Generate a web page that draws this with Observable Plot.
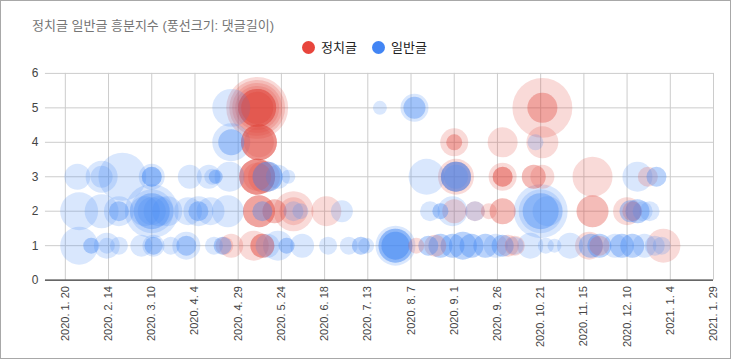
<!DOCTYPE html>
<html><head><meta charset="utf-8">
<script src="https://cdn.jsdelivr.net/npm/d3@7"></script>
<script src="https://cdn.jsdelivr.net/npm/@observablehq/plot@0.6"></script>
<style>
body{margin:0;background:#fff;}
#frame{position:relative;width:731px;height:359px;box-sizing:border-box;border:1px solid #a8a8a8;overflow:hidden;background:#fff;font-family:"Liberation Sans",Arial,"Noto Sans CJK KR",sans-serif;}
#title{position:absolute;left:31px;top:14px;font-size:13px;color:#757575;white-space:nowrap;}
.lg{position:absolute;top:39px;font-size:13px;color:#222;white-space:nowrap;line-height:16px;}
.dot{display:inline-block;width:13px;height:13px;border-radius:50%;vertical-align:-2px;margin-right:6px;}
#chart{position:absolute;left:-1px;top:-1px;}
</style></head>
<body>
<div id="frame">
  <div id="title">정치글 일반글 흥분지수 (풍선크기: 댓글길이)</div>
  <div class="lg" style="left:301px"><span class="dot" style="background:#e8453c"></span>정치글</div>
  <div class="lg" style="left:371px"><span class="dot" style="background:#4285f4"></span>일반글</div>
  <div id="chart"></div>
</div>
<script>
const seriesNames = ["정치글", "일반글"];
const seriesColors = ["#e0463a", "#4285f4"];

const tickDates = ["2020-01-20","2020-02-14","2020-03-10","2020-04-04","2020-04-29","2020-05-24","2020-06-18","2020-07-13","2020-08-07","2020-09-01","2020-09-26","2020-10-21","2020-11-15","2020-12-10","2021-01-04","2021-01-29"];
const tickLabels = ["2020. 1. 20","2020. 2. 14","2020. 3. 10","2020. 4. 4","2020. 4. 29","2020. 5. 24","2020. 6. 18","2020. 7. 13","2020. 8. 7","2020. 9. 1","2020. 9. 26","2020. 10. 21","2020. 11. 15","2020. 12. 10","2021. 1. 4","2021. 1. 29"];
const yTicks = [0,1,2,3,4,5,6];

// 정치글 (politics)
const politicsDates = [
 "2020-05-10","2020-05-10","2020-05-10","2020-05-10","2020-05-10","2020-05-10","2020-05-10","2020-05-10","2020-05-10","2020-05-10",
 "2020-10-22","2020-10-22","2020-10-22",
 "2020-05-11","2020-05-11","2020-05-11","2020-05-11","2020-05-11",
 "2020-09-01","2020-09-01","2020-09-01","2020-09-29","2020-10-22",
 "2020-05-10","2020-05-10","2020-05-10","2020-05-10","2020-05-10","2020-05-14",
 "2020-09-02","2020-09-02","2020-09-29","2020-09-29","2020-09-29","2020-09-29",
 "2020-10-17","2020-10-17","2020-10-22","2020-11-20","2020-12-22",
 "2020-05-11","2020-05-11","2020-05-11","2020-05-20","2020-05-20","2020-05-31","2020-05-31","2020-06-19",
 "2020-09-01","2020-09-13","2020-09-21","2020-09-29","2020-09-29","2020-11-20","2020-11-20","2020-12-10","2020-12-13",
 "2020-04-21","2020-04-25","2020-05-08","2020-05-13","2020-05-13","2020-05-13","2020-08-10","2020-08-21",
 "2020-10-02","2020-10-06","2020-11-18","2020-11-24","2020-12-31"];
const politicsScores = [
 5,5,5,5,5,5,5,5,5,5,
 5,5,5,
 4,4,4,4,4,
 4,4,4,4,4,
 3,3,3,3,3,3,
 3,3,3,3,3,3,
 3,3,3,3,3,
 2,2,2,2,2,2,2,2,
 2,2,2,2,2,2,2,2,2,
 1,1,1,1,1,1,1,1,
 1,1,1,1,1];
const politicsLengths = [
 310,280,250,220,190,190,190,190,160,160,
 300,150,150,
 180,180,180,180,150,
 140,80,80,150,160,
 180,180,180,180,140,160,
 180,150,140,100,100,100,
 120,120,120,200,100,
 160,160,160,120,120,200,140,150,
 120,100,80,130,130,160,160,140,100,
 90,120,150,120,120,120,80,110,
 110,100,140,100,170];

// 일반글 (general)
const generalDates = [
 "2020-01-27","2020-02-10","2020-02-10","2020-02-22","2020-03-10","2020-03-10","2020-03-10","2020-03-10",
 "2020-04-01","2020-04-12","2020-04-16","2020-04-16","2020-04-14","2020-04-24",
 "2020-05-16","2020-05-16","2020-05-16","2020-05-22","2020-05-28","2020-08-16",
 "2020-09-02","2020-09-02","2020-09-02","2020-09-02","2020-09-02","2020-12-16","2020-12-27","2020-12-27",
 "2020-01-28","2020-02-10","2020-02-20","2020-02-20","2020-02-20",
 "2020-03-10","2020-03-10","2020-03-10","2020-03-10","2020-03-10","2020-03-06","2020-03-14",
 "2020-03-19","2020-03-31","2020-04-06","2020-04-06","2020-04-06","2020-04-13","2020-04-23",
 "2020-05-13","2020-05-13","2020-05-31","2020-06-04","2020-06-28","2020-08-18","2020-08-24","2020-08-24","2020-08-31","2020-09-13",
 "2020-10-21","2020-10-21","2020-10-21","2020-10-21","2020-10-25",
 "2020-12-12","2020-12-12","2020-12-16","2020-12-16","2020-12-19","2020-12-23",
 "2020-01-28","2020-02-04","2020-02-04","2020-02-13","2020-02-13","2020-02-20","2020-03-04",
 "2020-03-11","2020-03-11","2020-03-11","2020-03-21","2020-03-30","2020-03-30","2020-03-30",
 "2020-04-15","2020-04-20","2020-04-20","2020-05-16","2020-05-22","2020-05-27","2020-05-27",
 "2020-06-05","2020-06-20","2020-07-02","2020-07-09","2020-07-09","2020-07-12",
 "2020-07-29","2020-07-29","2020-07-29","2020-07-29","2020-07-29","2020-07-29","2020-07-29",
 "2020-08-17","2020-08-17","2020-08-24","2020-08-24","2020-08-31","2020-08-31","2020-09-06","2020-09-06",
 "2020-09-11","2020-09-11","2020-09-19","2020-09-19","2020-09-25","2020-09-29","2020-09-29",
 "2020-10-06","2020-10-15","2020-10-24","2020-10-29","2020-11-07","2020-11-19","2020-11-19","2020-11-24","2020-11-24",
 "2020-12-03","2020-12-07","2020-12-07","2020-12-13","2020-12-13","2020-12-20","2020-12-26","2020-12-30",
 "2020-04-25","2020-04-25","2020-04-25","2020-10-18",
 "2020-04-25","2020-07-20","2020-08-09","2020-08-09","2020-08-09"];
const generalScores = [
 3,3,3,3,3,3,3,3,
 3,3,3,3,3,3,
 3,3,3,3,3,3,
 3,3,3,3,3,3,3,3,
 2,2,2,2,2,
 2,2,2,2,2,2,2,
 2,2,2,2,2,2,2,
 2,2,2,2,2,2,2,2,2,2,
 2,2,2,2,2,
 2,2,2,2,2,2,
 1,1,1,1,1,1,1,
 1,1,1,1,1,1,1,
 1,1,1,1,1,1,1,
 1,1,1,1,1,1,
 1,1,1,1,1,1,1,
 1,1,1,1,1,1,1,1,
 1,1,1,1,1,1,1,
 1,1,1,1,1,1,1,1,1,
 1,1,1,1,1,1,1,1,
 4,4,4,4,
 5,5,5,5,5];
const generalLengths = [
 130,160,110,240,100,100,100,130,
 120,120,70,70,80,150,
 150,150,150,120,70,180,
 150,150,150,150,120,150,100,100,
 190,170,100,100,150,
 270,220,180,180,140,150,150,
 150,140,100,100,150,140,160,
 100,100,100,80,110,100,80,80,150,100,
 270,220,180,180,150,
 110,110,120,120,100,100,
 190,80,80,130,80,90,110,
 110,90,90,90,140,100,100,
 90,90,90,120,150,80,80,
 120,90,90,90,90,80,
 200,170,170,170,140,140,140,
 100,100,120,120,120,120,140,140,
 120,120,120,120,120,110,110,
 90,130,80,70,130,120,120,120,120,
 120,120,120,120,120,120,100,90,
 190,130,130,80,
 190,70,140,110,110];

const rows = [];
politicsDates.forEach((d, i) => rows.push({series: seriesNames[0], date: new Date(d), score: politicsScores[i], len: politicsLengths[i]}));
generalDates.forEach((d, i) => rows.push({series: seriesNames[1], date: new Date(d), score: generalScores[i], len: generalLengths[i]}));

const ticks = tickDates.map(d => new Date(d));
const labelOf = new Map(tickDates.map((d, i) => [+new Date(d), tickLabels[i]]));

const chart = Plot.plot({
  width: 731, height: 359,
  marginLeft: 45, marginRight: 17, marginTop: 73, marginBottom: 79,
  style: {fontFamily: '"Liberation Sans", Arial, sans-serif', background: "transparent"},
  x: {type: "utc", domain: [new Date("2020-01-08T12:00:00Z"), new Date("2021-01-29")]},
  y: {domain: [0, 6]},
  r: {type: "linear", domain: [0, 310], range: [0, 31]},
  color: {domain: seriesNames, range: seriesColors},
  marks: [
    Plot.gridY([1,2,3,4,5,6], {stroke: "#cccccc", strokeOpacity: 1}),
    Plot.gridX(ticks, {stroke: "#cccccc", strokeOpacity: 1}),
    Plot.dot(rows, {x: "date", y: "score", r: "len", fill: "series", fillOpacity: 0.2, stroke: null}),
    Plot.ruleY([0], {stroke: "#333333", strokeWidth: 1.2}),
    Plot.axisX(ticks, {tickSize: 0, tickPadding: 6, tickRotate: -90, fontSize: 11, fill: "#444", tickFormat: d => labelOf.get(+d), label: null}),
    Plot.axisY(yTicks, {tickSize: 0, tickPadding: 7, fontSize: 12, fill: "#444", label: null})
  ]
});
document.getElementById("chart").appendChild(chart);
</script>
</body></html>
